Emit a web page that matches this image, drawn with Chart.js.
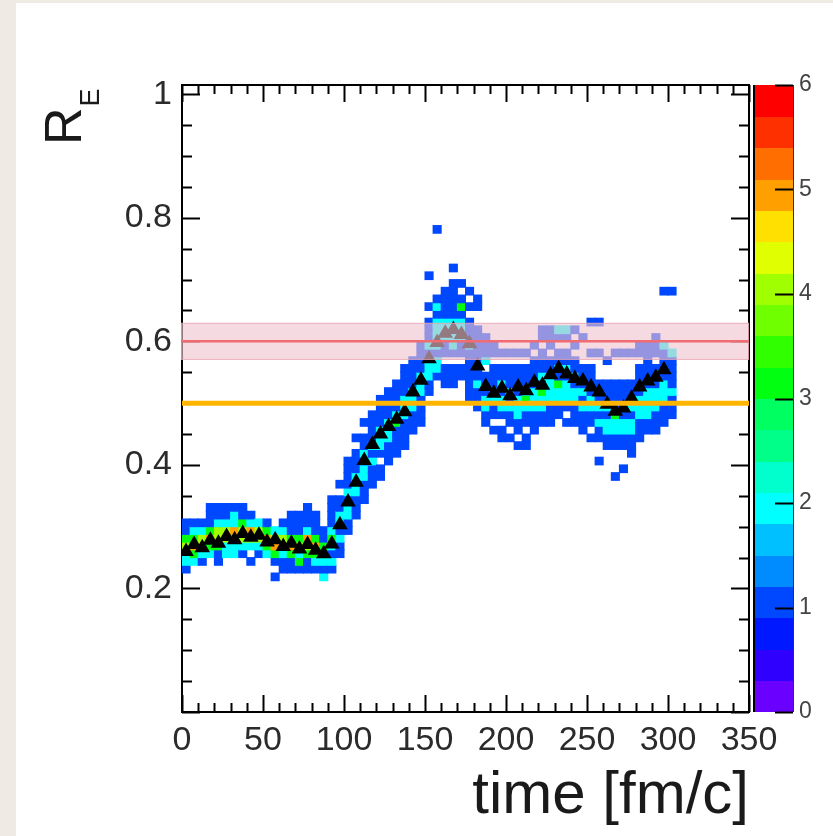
<!DOCTYPE html>
<html>
<head>
<meta charset="utf-8">
<script src="https://cdn.jsdelivr.net/npm/chart.js@4/dist/chart.umd.min.js"></script>
<style>
  html, body { margin: 0; padding: 0; background: #efebe4; width: 833px; height: 836px; overflow: hidden; }
  #wrap { position: absolute; left: 16px; top: 3px; width: 817px; height: 833px; background: #ffffff; }
  canvas { display: block; }
</style>
</head>
<body>
<div id="wrap"><canvas id="c" width="817" height="833"></canvas></div>
<script>
// ---- histogram binning ----
const timeBinWidth = 5;      // fm/c
const rBinWidth = 0.0125;    // R_E

// 2D histogram: [time bin start, first R bin index, counts in consecutive R bins]
const cellColumns = [
  [0,   18, [1,2,2,4,3,1,1]],
  [5,   18, [0,2,3,5,3,2,1]],
  [10,  19, [1,2,4,4,2,1]],
  [15,  19, [0,2,3,5,3,1,1,1]],
  [20,  19, [1,1,3,4,4,2,1,1]],
  [25,  19, [0,2,2,4,4,2,1,1]],
  [30,  19, [0,2,2,3,5,2,2,1]],
  [35,  19, [0,1,2,4,4,3,1,1]],
  [40,  19, [1,0,2,4,5,2,1]],
  [45,  20, [1,2,4,4,2]],
  [50,  20, [2,3,5,3,1]],
  [55,  17, [1,0,1,3,5,4,2]],
  [60,  18, [1,1,2,5,4,2,1]],
  [65,  18, [1,1,3,5,3,1,1,1]],
  [70,  18, [1,3,2,4,3,1,1,1]],
  [75,  18, [1,1,3,4,5,2,1,1,1]],
  [80,  18, [1,2,3,5,3,1,1,1]],
  [85,  17, [2,1,2,4,3,1,1]],
  [90,  18, [1,2,1,2,3,2,1,1,1,1]],
  [95,  20, [1,1,2,1,2,2,1,1,0,1]],
  [100, 23, [1,1,2,2,1,2,1,1,1,1]],
  [105, 25, [1,1,1,2,2,2,1,1,1,0,1]],
  [110, 27, [1,1,1,2,2,1,2,1,1,0,1]],
  [115, 29, [1,1,1,2,1,2,1,1,1,1]],
  [120, 30, [1,1,0,1,2,2,2,1,1,1,1]],
  [125, 32, [1,1,1,2,2,2,1,1,1,1]],
  [130, 33, [1,1,1,1,3,2,1,1,1,1]],
  [135, 34, [1,1,1,1,2,2,2,1,1,1,1]],
  [140, 36, [1,1,1,2,2,2,1,1,1,1]],
  [145, 37, [1,1,1,1,2,2,2,1,1,1,1]],
  [150, 41, [1,1,2,2,2,1,2,1,1,1,0,1,0,0,0,1]],
  [155, 43, [1,2,2,1,2,2,2,2,1,2,1,0,0,0,0,0,0,0,0,1]],
  [160, 42, [1,1,1,0,1,1,2,2,2,1,1,1,1]],
  [165, 42, [1,1,1,0,1,2,2,2,2,1,1,1,1,1,0,1]],
  [170, 43, [1,1,0,1,1,2,2,2,1,3,1,0,1]],
  [175, 40, [1,1,1,1,1,1,1,2,1,1,1,0,1,0,1]],
  [180, 39, [1,1,1,2,1,1,1,1,1,1,1,0,0,1,1]],
  [185, 37, [1,1,2,2,1,1,1,0,2,1,1,1]],
  [190, 36, [1,0,1,1,2,2,1,1,1,0,1,1]],
  [195, 35, [1,1,0,1,2,2,1,2,1,1,0,1]],
  [200, 35, [1,0,1,1,2,1,2,1,1,1,0,1]],
  [205, 34, [1,0,1,1,2,2,2,1,1,1,1,0,1]],
  [210, 34, [1,1,0,1,1,2,3,2,1,1,1,0,1]],
  [215, 36, [1,1,1,2,2,2,1,1,1,1,0,1]],
  [220, 37, [1,1,2,2,3,1,2,1,1,1,0,1,1]],
  [225, 37, [1,1,1,2,2,2,2,1,1,0,1,1,1]],
  [230, 38, [1,1,2,2,3,1,2,1,1,0,1,2]],
  [235, 37, [1,0,1,2,2,2,1,2,1,1,0,1,2]],
  [240, 37, [1,1,1,2,2,1,2,1,1,0,1,0,1]],
  [245, 36, [1,1,1,2,1,2,1,1,1,0,0,0,1]],
  [250, 35, [1,0,1,1,2,2,1,1,1,1,0,1,0,0,0,1]],
  [255, 32, [1,0,0,1,1,2,1,2,1,1,1,0,0,0,1,0,0,0,1]],
  [260, 34, [1,1,2,2,1,2,1,1,1,0,0,1]],
  [265, 30, [1,0,0,0,1,1,2,2,3,1,1,1,1,0,0,0,1]],
  [270, 31, [1,0,0,1,1,2,2,1,1,1,1,1,0,0,0,1]],
  [275, 33, [1,1,1,2,2,1,2,1,1,1,0,0,0,1]],
  [280, 35, [1,1,1,2,2,2,1,1,1,1,0,1,1]],
  [285, 36, [1,1,2,2,2,2,1,1,1,1,1,1]],
  [290, 36, [1,1,1,2,2,2,1,1,1,0,1,1,1]],
  [295, 37, [1,1,1,2,2,2,1,1,1,1,2,0,0,0,0,0,0,1]],
  [300, 38, [1,1,1,2,1,1,1,1,2,0,0,0,0,0,0,0,1]]
];

// mean R_E per time bin (profile)
const profileTime = [
  2.5, 7.5, 12.5, 17.5, 22.5, 27.5, 32.5, 37.5, 42.5, 47.5,
  52.5, 57.5, 62.5, 67.5, 72.5, 77.5, 82.5, 87.5, 92.5, 97.5,
  102.5, 107.5, 112.5, 117.5, 122.5, 127.5, 132.5, 137.5, 142.5, 147.5,
  152.5, 157.5, 162.5, 167.5, 172.5, 177.5, 182.5, 187.5, 192.5, 197.5,
  202.5, 207.5, 212.5, 217.5, 222.5, 227.5, 232.5, 237.5, 242.5, 247.5,
  252.5, 257.5, 262.5, 267.5, 272.5, 277.5, 282.5, 287.5, 292.5, 297.5
];
const profileRE = [
  0.260, 0.271, 0.266, 0.278, 0.273, 0.284, 0.279, 0.289, 0.283, 0.286,
  0.275, 0.279, 0.268, 0.273, 0.264, 0.271, 0.262, 0.256, 0.272, 0.303,
  0.340, 0.372, 0.407, 0.433, 0.450, 0.462, 0.474, 0.486, 0.518, 0.537,
  0.572, 0.598, 0.613, 0.619, 0.611, 0.596, 0.560, 0.527, 0.516, 0.524,
  0.512, 0.526, 0.520, 0.534, 0.529, 0.546, 0.556, 0.547, 0.540, 0.536,
  0.526, 0.518, 0.498, 0.487, 0.492, 0.508, 0.526, 0.536, 0.542, 0.554
];

// reference levels
const redLevel = 0.6;
const redBand = [0.57, 0.63];
const orangeLevel = 0.5;

// axis ticks
const xMajorTicks = [0, 50, 100, 150, 200, 250, 300, 350];
const yMajorTicks = [0.2, 0.4, 0.6, 0.8, 1];
const zTicks = [0, 1, 2, 3, 4, 5, 6];

// colour palette of the z axis, 20 contours from 0 to 6 (bottom to top)
const palette = [
  '#6a00ff', '#3000ff', '#0018ff', '#0048ff', '#008cff',
  '#00c0ff', '#00ffff', '#00ffcc', '#00ff88', '#00ff60',
  '#00ff10', '#30ff00', '#70ff00', '#a0ff00', '#e0ff00',
  '#ffe000', '#ffa000', '#ff6e00', '#ff3000', '#ff0000'
];
const zMax = 6;

function colourFor(n) {
  const k = Math.min(palette.length - 1, Math.floor(n * palette.length / zMax + 1e-9));
  return palette[k];
}

const FONT = "'Liberation Sans', Arial, Helvetica, sans-serif";

const hist2dPlugin = {
  id: 'hist2d',
  beforeDatasetsDraw(chart) {
    const { ctx, chartArea: a, scales: { x, y } } = chart;
    ctx.save();
    // frame with inward ticks on all four sides
    ctx.strokeStyle = '#000';
    ctx.lineWidth = 2;
    ctx.strokeRect(a.left, a.top, a.right - a.left, a.bottom - a.top);
    ctx.beginPath();
    for (let v = 0; v <= 350 + 1e-6; v += 10) {
      const px = Math.round(x.getPixelForValue(v)) + 0.5;
      const len = (Math.round(v) % 50 === 0) ? 17 : 9;
      ctx.moveTo(px, a.bottom); ctx.lineTo(px, a.bottom - len);
      ctx.moveTo(px, a.top); ctx.lineTo(px, a.top + len);
    }
    for (let i = 0; i <= 20; i++) {
      const v = i * 0.05;
      const py = Math.round(y.getPixelForValue(v)) + 0.5;
      const len = (i % 4 === 0) ? 18 : 10;
      ctx.moveTo(a.left, py); ctx.lineTo(a.left + len, py);
      ctx.moveTo(a.right, py); ctx.lineTo(a.right - len, py);
    }
    ctx.stroke();

    // histogram cells
    ctx.beginPath();
    ctx.rect(a.left, a.top, a.right - a.left, a.bottom - a.top);
    ctx.clip();
    for (const [t0, j0, counts] of cellColumns) {
      const xl = x.getPixelForValue(t0);
      const xr = x.getPixelForValue(t0 + timeBinWidth);
      counts.forEach((n, k) => {
        if (!n) return;
        const r0 = (j0 + k) * rBinWidth;
        const yb = y.getPixelForValue(r0);
        const yt = y.getPixelForValue(r0 + rBinWidth);
        ctx.fillStyle = colourFor(n);
        ctx.fillRect(xl - 0.5, yt - 0.5, xr - xl + 1, yb - yt + 1);
      });
    }
    ctx.restore();
  },
  afterDatasetsDraw(chart) {
    const { ctx, scales: { x, y } } = chart;
    const x0 = x.getPixelForValue(0) - 1;
    const x1 = x.getPixelForValue(350);
    ctx.save();
    // uncertainty band around the red level
    const bt = y.getPixelForValue(redBand[1]);
    const bb = y.getPixelForValue(redBand[0]);
    ctx.fillStyle = 'rgba(240, 196, 206, 0.62)';
    ctx.fillRect(x0, bt, x1 - x0, bb - bt);
    ctx.strokeStyle = 'rgba(232, 160, 172, 0.7)';
    ctx.lineWidth = 1;
    ctx.strokeRect(x0 + 0.5, bt + 0.5, x1 - x0 - 1, bb - bt - 1);
    // red level
    ctx.strokeStyle = '#f06c72';
    ctx.lineWidth = 2.5;
    ctx.beginPath();
    ctx.moveTo(x0, y.getPixelForValue(redLevel));
    ctx.lineTo(x1, y.getPixelForValue(redLevel));
    ctx.stroke();
    // orange level
    ctx.strokeStyle = '#ffb400';
    ctx.lineWidth = 5;
    ctx.beginPath();
    ctx.moveTo(x0 + 1, y.getPixelForValue(orangeLevel));
    ctx.lineTo(x1, y.getPixelForValue(orangeLevel));
    ctx.stroke();
    ctx.restore();
  },
  afterDraw(chart) {
    const { ctx, chartArea: a, scales: { z } } = chart;
    ctx.save();
    // palette bar
    const bl = a.right + 5, br = a.right + 44;
    palette.forEach((c, k) => {
      const v0 = k * zMax / palette.length, v1 = (k + 1) * zMax / palette.length;
      const yb = z.getPixelForValue(v0), yt = z.getPixelForValue(v1);
      ctx.fillStyle = c;
      ctx.fillRect(bl, Math.floor(yt), br - bl, Math.ceil(yb) - Math.floor(yt));
    });
    ctx.strokeStyle = '#000';
    ctx.lineWidth = 2;
    ctx.beginPath();
    ctx.moveTo(bl, a.top); ctx.lineTo(bl, a.bottom);
    ctx.stroke();
    ctx.lineWidth = 1;
    ctx.strokeStyle = '#333';
    ctx.beginPath();
    ctx.moveTo(br + 0.5, a.top); ctx.lineTo(br + 0.5, a.bottom);
    ctx.stroke();
    ctx.lineWidth = 2;
    ctx.strokeStyle = '#000';
    ctx.beginPath();
    for (const v of zTicks) {
      const py = Math.round(z.getPixelForValue(v)) + 0.5;
      ctx.moveTo(br, py); ctx.lineTo(br - 18, py);
    }
    ctx.stroke();

    // vertical axis title R_E
    ctx.fillStyle = '#1a1a1a';
    ctx.translate(65, 142);
    ctx.rotate(-Math.PI / 2);
    ctx.textBaseline = 'alphabetic';
    ctx.font = '52px ' + FONT;
    ctx.fillText('R', 0, 0);
    const w = ctx.measureText('R').width;
    ctx.font = '27px ' + FONT;
    ctx.fillText('E', w + 1, 18);
    ctx.restore();
  }
};

new Chart(document.getElementById('c'), {
  type: 'scatter',
  data: {
    datasets: [{
      label: 'mean',
      data: profileTime.map((t, i) => ({ x: t, y: profileRE[i] })),
      pointStyle: 'triangle',
      pointRadius: 9,
      pointHoverRadius: 9,
      backgroundColor: '#000',
      borderColor: '#000',
      borderWidth: 0,
      showLine: false
    }]
  },
  options: {
    responsive: false,
    animation: false,
    devicePixelRatio: 1,
    layout: { padding: { top: 82, left: 0, right: 0, bottom: 0 } },
    plugins: { legend: { display: false }, tooltip: { enabled: false } },
    scales: {
      x: {
        type: 'linear', position: 'bottom', min: 0, max: 350,
        grid: { display: false, drawTicks: false },
        border: { display: false },
        afterBuildTicks: s => { s.ticks = xMajorTicks.map(v => ({ value: v })); },
        afterFit: s => { s.height = 124; },
        ticks: { font: { family: FONT, size: 34 }, color: '#2b2b2b', padding: 8, maxRotation: 0, autoSkip: false },
        title: { display: true, text: 'time [fm/c]', align: 'end', color: '#1a1a1a',
                 font: { family: FONT, size: 60 }, padding: { top: 0, bottom: 4 } }
      },
      y: {
        type: 'linear', position: 'left', min: 0, max: 1.015,
        grid: { display: false, drawTicks: false },
        border: { display: false },
        afterBuildTicks: s => { s.ticks = yMajorTicks.map(v => ({ value: v })); },
        afterFit: s => { s.width = 166; },
        ticks: { font: { family: FONT, size: 34 }, color: '#2b2b2b', padding: 10,
                 callback: v => String(v) }
      },
      z: {
        type: 'linear', position: 'right', min: 0, max: zMax,
        grid: { display: false, drawTicks: false },
        border: { display: false },
        afterBuildTicks: s => { s.ticks = zTicks.map(v => ({ value: v })); },
        afterFit: s => { s.width = 84; },
        ticks: { font: { family: FONT, size: 23 }, color: '#444', padding: 50 }
      }
    }
  },
  plugins: [hist2dPlugin]
});
</script>
</body>
</html>
